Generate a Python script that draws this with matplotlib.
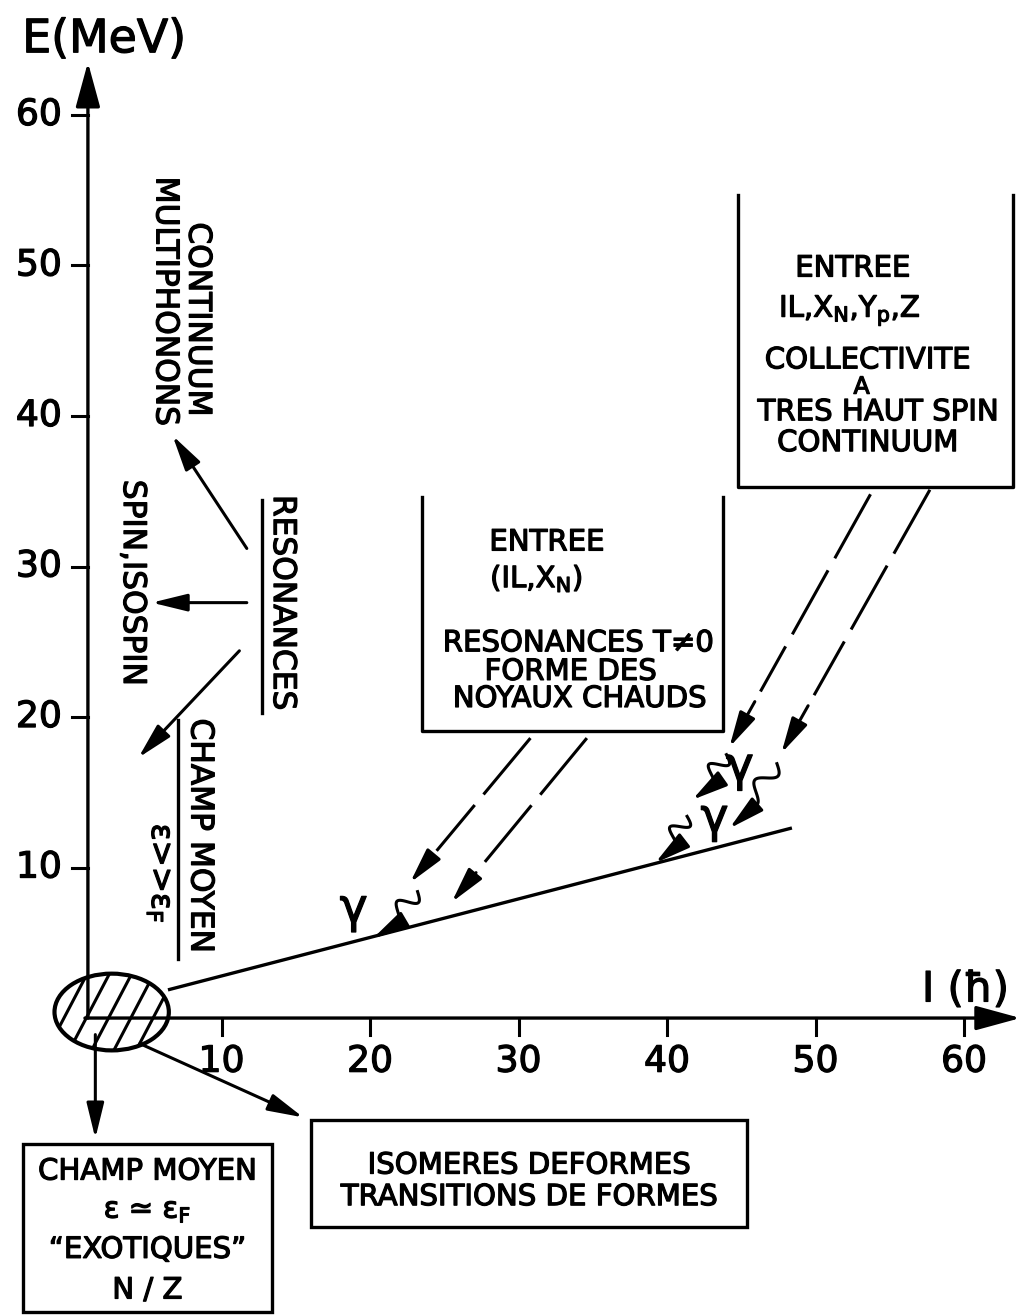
import numpy as np
import matplotlib
matplotlib.use('Agg')
import matplotlib.pyplot as plt
import matplotlib.patheffects as pe
from matplotlib.patches import Ellipse, Rectangle

plt.rcParams['font.family'] = ['DejaVu Sans']
plt.rcParams['mathtext.fontset'] = 'dejavusans'

# frame: spin I (hbar) across, energy E (MeV) up
x_lim = (-4.92, 63.97)
y_lim = (-19.73, 67.64)
x_ticks = [10, 20, 30, 40, 50, 60]
y_ticks = [10, 20, 30, 40, 50, 60]

# line leaving the ground-state region
yrast_I = [6.5, 48.3]
yrast_E = [1.9, 12.6]

# hatched blob at the origin
blob_center = (2.6, 0.4)
blob_size = (7.7, 5.1)

# plain arrows (from, to)
solid_arrows = [
    ((11.7, 31.2), (6.7, 38.7)),
    ((11.7, 27.6), (5.3, 27.6)),
    ((11.2, 24.4), (4.4, 17.3)),
    ((1.5, -1.1), (1.5, -8.0)),
    ((4.5, -1.7), (15.5, -6.6)),
]

# dashed feeding arrows coming out of the two upper boxes
dashed_arrows = [
    ((30.8, 18.6), (22.7, 9.0)),
    ((34.6, 18.6), (25.5, 7.7)),
    ((53.7, 34.8), (44.2, 18.0)),
    ((57.7, 35.1), (47.7, 17.6)),
]

# wavy gamma transitions
gamma_arrows = [
    ((23.2, 8.4), (20.2, 5.3)),
    ((44.0, 17.5), (41.7, 14.5)),
    ((41.35, 13.4), (39.2, 10.3)),
    ((47.4, 16.9), (44.2, 12.6)),
]
gamma_pos = [(18.9, 7.2), (44.9, 16.6), (43.2, 13.2)]

# open-topped boxes (left, right, bottom, top)
open_boxes = [(23.5, 43.8, 19.1, 34.6), (44.8, 63.3, 35.3, 54.7)]
# closed boxes (left, right, bottom, top)
closed_boxes = [(-3.4, 13.4, -19.5, -8.4), (16.0, 45.4, -13.9, -6.8)]

box_texts = [
    ('ENTREE', 31.9, 31.6, 21),
    ('(IL,X$_\\mathrm{N}$)', 31.2, 29.2, 21),
    ('RESONANCES T\u22600', 34.0, 24.9, 21),
    ('FORME DES', 33.5, 23.0, 21),
    ('NOYAUX CHAUDS', 34.1, 21.2, 21),
    ('ENTREE', 52.5, 49.8, 21),
    ('IL,X$_\\mathrm{N}$,Y$_\\mathrm{p}$,Z', 52.3, 47.0, 21),
    ('COLLECTIVITE', 53.5, 43.7, 21),
    ('A', 53.1, 41.95, 17),
    ('TRES HAUT SPIN', 54.2, 40.25, 21),
    ('CONTINUUM', 53.5, 38.2, 21),
    ('CHAMP MOYEN', 5.0, -10.2, 21),
    ('\u03b5 \u2243 \u03b5$_\\mathrm{F}$', 5.0, -12.8, 21),
    ('\u201cEXOTIQUES\u201d', 5.0, -15.4, 21),
    ('N / Z', 5.0, -18.1, 21),
    ('ISOMERES DEFORMES', 30.7, -9.8, 21),
    ('TRANSITIONS DE FORMES', 30.7, -11.9, 21),
]

side_texts = [
    ('CONTINUUM', 8.4, 46.4),
    ('MULTIPHONONS', 6.2, 47.6),
    ('SPIN,ISOSPIN', 4.0, 28.9),
    ('RESONANCES', 14.1, 27.6),
    ('CHAMP MOYEN', 8.55, 12.1),
    ('\u03b5>>\u03b5$_\\mathrm{F}$', 5.8, 9.6),
]
# bars drawn under rotated labels (I, E from, E to)
side_bars = [(12.7, 34.4, 20.3), (7.1, 19.8, 3.9)]

head = '-|>,head_length=0.9,head_width=0.22'
heavy = [pe.withStroke(linewidth=0.9, foreground='black')]


def arrow(ax, p0, p1, lw=2.2):
    ax.annotate('', xy=p1, xytext=p0,
                arrowprops=dict(arrowstyle=head, mutation_scale=24, lw=lw,
                                color='k', shrinkA=0, shrinkB=0))


fig = plt.figure(figsize=(10.23, 13.15), dpi=100)
ax = fig.add_axes([0, 0, 1, 1])
ax.set_xlim(*x_lim)
ax.set_ylim(*y_lim)
ax.axis('off')

# axes with arrow heads
axis_head = '-|>,head_length=1.1,head_width=0.3'
ax.annotate('', xy=(1.0, 63.5), xytext=(1.0, 0),
            arrowprops=dict(arrowstyle=axis_head, mutation_scale=25, lw=2.4,
                            color='k', shrinkA=0, shrinkB=0))
ax.annotate('', xy=(63.8, 0), xytext=(0.8, 0),
            arrowprops=dict(arrowstyle=axis_head, mutation_scale=25, lw=2.4,
                            color='k', shrinkA=0, shrinkB=0))
for v in y_ticks:
    ax.plot([-0.1, 1.0], [v, v], color='k', lw=2.2)
    ax.text(-0.75, v, str(v), ha='right', va='center', fontsize=26,
            path_effects=heavy)
for v in x_ticks:
    ax.plot([v, v], [0, -1.1], color='k', lw=2.2)
    ax.text(v, -2.9, str(v), ha='center', va='center', fontsize=26,
            path_effects=heavy)
ax.text(2.1, 65.0, 'E(MeV)', ha='center', va='center', fontsize=33,
        path_effects=heavy)
ax.text(60.1, 1.9, 'I (\u0127)', ha='center', va='center', fontsize=30,
        path_effects=heavy)

# blob with hand-style hatching
blob = Ellipse(blob_center, *blob_size, facecolor='none', edgecolor='k', lw=3)
ax.add_patch(blob)
ang = np.deg2rad(62)
for off in [-3.0, -1.5, 0.0, 1.5, 3.0]:
    t = np.array([-5, 5])
    ln, = ax.plot(blob_center[0] + off + t * np.cos(ang),
                  blob_center[1] + t * np.sin(ang), color='k', lw=2.2)
    ln.set_clip_path(blob)

ax.plot(yrast_I, yrast_E, color='k', lw=2.4)

for p0, p1 in solid_arrows:
    arrow(ax, p0, p1)

for p0, p1 in dashed_arrows:
    p0, p1 = np.array(p0), np.array(p1)
    mid = p0 + 0.78 * (p1 - p0)
    ax.plot([p0[0], mid[0]], [p0[1], mid[1]], color='k', lw=2.2,
            dashes=(24, 4.5))
    arrow(ax, mid + 0.04 * (p1 - p0), p1)

for p0, p1 in gamma_arrows:
    p0, p1 = np.array(p0), np.array(p1)
    d = p1 - p0
    nrm = np.array([-d[1], d[0]]) / np.hypot(*d)
    t = np.linspace(0, 0.55, 80)
    w = 0.55 * np.sin(2 * np.pi * t / 0.55 * 1.25)
    pts = p0 + np.outer(t, d) + np.outer(w, nrm)
    ax.plot(pts[:, 0], pts[:, 1], color='k', lw=2.2)
    arrow(ax, pts[-1], p1, lw=2.2)

for gx, gy in gamma_pos:
    ax.text(gx, gy, '\u03b3', ha='center', va='center', fontsize=34,
            path_effects=heavy)

for l, r, b, t in open_boxes:
    ax.plot([l, l, r, r], [t, b, b, t], color='k', lw=2.4)
for l, r, b, t in closed_boxes:
    ax.add_patch(Rectangle((l, b), r - l, t - b, facecolor='none',
                           edgecolor='k', lw=2.4))

for s, x, y, fs in box_texts:
    ax.text(x, y, s, ha='center', va='center', fontsize=fs,
            path_effects=heavy)

for s, x, y in side_texts:
    ax.text(x, y, s, ha='center', va='center', fontsize=22.5, rotation=-90,
            path_effects=heavy)
for x, y0, y1 in side_bars:
    ax.plot([x, x], [y0, y1], color='k', lw=2.4)

fig.savefig('out.png', dpi=100)
